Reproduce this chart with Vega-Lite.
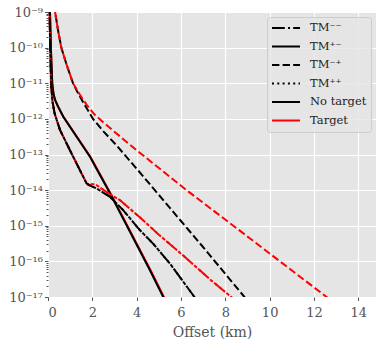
{
  "$schema": "https://vega.github.io/schema/vega-lite/v6.json",
  "autosize": {"type": "none"},
  "padding": {"left": 48, "top": 12, "right": 0, "bottom": 43},
  "width": 328,
  "height": 285,
  "config": {
    "view": {"fill": "#E5E5E5", "stroke": null},
    "axis": {
      "domain": false,
      "grid": true,
      "gridColor": "#FFFFFF",
      "gridWidth": 1.2,
      "tickColor": "#555555",
      "labelColor": "#555555",
      "labelFont": "DejaVu Serif",
      "labelFontSize": 13,
      "titleFont": "DejaVu Serif",
      "titleFontSize": 14,
      "titleFontWeight": "normal",
      "titleColor": "#555555"
    },
    "legend": {
      "labelFont": "DejaVu Serif",
      "labelFontSize": 11.5,
      "labelColor": "#222222",
      "symbolStrokeWidth": 2,
      "symbolType": "stroke",
      "symbolSize": 784,
      "clipHeight": 14,
      "labelOffset": 9,
      "rowPadding": 4.5,
      "padding": 4,
      "fillColor": "rgba(229,229,229,0.8)",
      "strokeColor": "#CCCCCC",
      "cornerRadius": 3,
      "offset": 5
    }
  },
  "layer": [
    {
      "data": {
        "values": [
          {"mode": "TM⁻⁺", "target": "No target", "offset": 0.22, "value": 3.16e-9},
          {"mode": "TM⁻⁺", "target": "No target", "offset": 0.32, "value": 1e-9},
          {"mode": "TM⁻⁺", "target": "No target", "offset": 0.45, "value": 3.16e-10},
          {"mode": "TM⁻⁺", "target": "No target", "offset": 0.6, "value": 1e-10},
          {"mode": "TM⁻⁺", "target": "No target", "offset": 0.85, "value": 3.16e-11},
          {"mode": "TM⁻⁺", "target": "No target", "offset": 1.13, "value": 1e-11},
          {"mode": "TM⁻⁺", "target": "No target", "offset": 1.29, "value": 6.31e-12},
          {"mode": "TM⁻⁺", "target": "No target", "offset": 1.6, "value": 2.82e-12},
          {"mode": "TM⁻⁺", "target": "No target", "offset": 2.03, "value": 1e-12},
          {"mode": "TM⁻⁺", "target": "No target", "offset": 2.5, "value": 4.47e-13},
          {"mode": "TM⁻⁺", "target": "No target", "offset": 3.1, "value": 1.78e-13},
          {"mode": "TM⁻⁺", "target": "No target", "offset": 4.07, "value": 3.55e-14},
          {"mode": "TM⁻⁺", "target": "No target", "offset": 5.5, "value": 3.16e-15},
          {"mode": "TM⁻⁺", "target": "No target", "offset": 7.0, "value": 2.51e-16},
          {"mode": "TM⁻⁺", "target": "No target", "offset": 8.8, "value": 1.12e-17},
          {"mode": "TM⁻⁺", "target": "No target", "offset": 9.0, "value": 7.94e-18},

          {"mode": "TM⁻⁺", "target": "Target", "offset": 0.2, "value": 3.98e-9},
          {"mode": "TM⁻⁺", "target": "Target", "offset": 0.32, "value": 1e-9},
          {"mode": "TM⁻⁺", "target": "Target", "offset": 0.45, "value": 3.16e-10},
          {"mode": "TM⁻⁺", "target": "Target", "offset": 0.6, "value": 1e-10},
          {"mode": "TM⁻⁺", "target": "Target", "offset": 0.85, "value": 3.16e-11},
          {"mode": "TM⁻⁺", "target": "Target", "offset": 1.13, "value": 1e-11},
          {"mode": "TM⁻⁺", "target": "Target", "offset": 1.45, "value": 4.68e-12},
          {"mode": "TM⁻⁺", "target": "Target", "offset": 1.74, "value": 2.51e-12},
          {"mode": "TM⁻⁺", "target": "Target", "offset": 2.1, "value": 1.32e-12},
          {"mode": "TM⁻⁺", "target": "Target", "offset": 2.5, "value": 7.94e-13},
          {"mode": "TM⁻⁺", "target": "Target", "offset": 3.09, "value": 3.89e-13},
          {"mode": "TM⁻⁺", "target": "Target", "offset": 4.0, "value": 1.32e-13},
          {"mode": "TM⁻⁺", "target": "Target", "offset": 6.25, "value": 1e-14},
          {"mode": "TM⁻⁺", "target": "Target", "offset": 9.1, "value": 4.47e-16},
          {"mode": "TM⁻⁺", "target": "Target", "offset": 12.57, "value": 1e-17},
          {"mode": "TM⁻⁺", "target": "Target", "offset": 12.9, "value": 7.08e-18},

          {"mode": "TM⁺⁻", "target": "Target", "offset": 0.05, "value": 3.98e-9},
          {"mode": "TM⁺⁻", "target": "Target", "offset": 0.09, "value": 1e-9},
          {"mode": "TM⁺⁻", "target": "Target", "offset": 0.11, "value": 3.16e-10},
          {"mode": "TM⁺⁻", "target": "Target", "offset": 0.13, "value": 1e-10},
          {"mode": "TM⁺⁻", "target": "Target", "offset": 0.16, "value": 3.16e-11},
          {"mode": "TM⁺⁻", "target": "Target", "offset": 0.19, "value": 1e-11},
          {"mode": "TM⁺⁻", "target": "Target", "offset": 0.25, "value": 5.01e-12},
          {"mode": "TM⁺⁻", "target": "Target", "offset": 0.32, "value": 3.39e-12},
          {"mode": "TM⁺⁻", "target": "Target", "offset": 0.45, "value": 2.24e-12},
          {"mode": "TM⁺⁻", "target": "Target", "offset": 0.69, "value": 1.15e-12},
          {"mode": "TM⁺⁻", "target": "Target", "offset": 1.3, "value": 3.16e-13},
          {"mode": "TM⁺⁻", "target": "Target", "offset": 1.91, "value": 8.71e-14},
          {"mode": "TM⁺⁻", "target": "Target", "offset": 2.81, "value": 8.32e-15},
          {"mode": "TM⁺⁻", "target": "Target", "offset": 4.63, "value": 5.62e-17},
          {"mode": "TM⁺⁻", "target": "Target", "offset": 5.23, "value": 1e-17},
          {"mode": "TM⁺⁻", "target": "Target", "offset": 5.38, "value": 6.61e-18},

          {"mode": "TM⁺⁻", "target": "No target", "offset": 0.06, "value": 3.16e-9},
          {"mode": "TM⁺⁻", "target": "No target", "offset": 0.09, "value": 1e-9},
          {"mode": "TM⁺⁻", "target": "No target", "offset": 0.11, "value": 3.16e-10},
          {"mode": "TM⁺⁻", "target": "No target", "offset": 0.13, "value": 1e-10},
          {"mode": "TM⁺⁻", "target": "No target", "offset": 0.16, "value": 3.16e-11},
          {"mode": "TM⁺⁻", "target": "No target", "offset": 0.19, "value": 1e-11},
          {"mode": "TM⁺⁻", "target": "No target", "offset": 0.25, "value": 5.01e-12},
          {"mode": "TM⁺⁻", "target": "No target", "offset": 0.32, "value": 3.39e-12},
          {"mode": "TM⁺⁻", "target": "No target", "offset": 0.45, "value": 2.24e-12},
          {"mode": "TM⁺⁻", "target": "No target", "offset": 0.69, "value": 1.15e-12},
          {"mode": "TM⁺⁻", "target": "No target", "offset": 1.29, "value": 3.16e-13},
          {"mode": "TM⁺⁻", "target": "No target", "offset": 1.89, "value": 8.71e-14},
          {"mode": "TM⁺⁻", "target": "No target", "offset": 2.79, "value": 8.32e-15},
          {"mode": "TM⁺⁻", "target": "No target", "offset": 4.6, "value": 5.62e-17},
          {"mode": "TM⁺⁻", "target": "No target", "offset": 5.2, "value": 1e-17},
          {"mode": "TM⁺⁻", "target": "No target", "offset": 5.35, "value": 6.61e-18},

          {"mode": "TM⁻⁻", "target": "Target", "offset": 0.04, "value": 3.16e-9},
          {"mode": "TM⁻⁻", "target": "Target", "offset": 0.07, "value": 1e-9},
          {"mode": "TM⁻⁻", "target": "Target", "offset": 0.085, "value": 3.16e-10},
          {"mode": "TM⁻⁻", "target": "Target", "offset": 0.1, "value": 1e-10},
          {"mode": "TM⁻⁻", "target": "Target", "offset": 0.12, "value": 3.16e-11},
          {"mode": "TM⁻⁻", "target": "Target", "offset": 0.14, "value": 1e-11},
          {"mode": "TM⁻⁻", "target": "Target", "offset": 0.2, "value": 3.16e-12},
          {"mode": "TM⁻⁻", "target": "Target", "offset": 0.3, "value": 1.41e-12},
          {"mode": "TM⁻⁻", "target": "Target", "offset": 0.54, "value": 4.9e-13},
          {"mode": "TM⁻⁻", "target": "Target", "offset": 0.99, "value": 1.32e-13},
          {"mode": "TM⁻⁻", "target": "Target", "offset": 1.44, "value": 3.63e-14},
          {"mode": "TM⁻⁻", "target": "Target", "offset": 1.74, "value": 1.55e-14},
          {"mode": "TM⁻⁻", "target": "Target", "offset": 1.87, "value": 1.38e-14},
          {"mode": "TM⁻⁻", "target": "Target", "offset": 2.0, "value": 1.48e-14},
          {"mode": "TM⁻⁻", "target": "Target", "offset": 2.19, "value": 1.38e-14},
          {"mode": "TM⁻⁻", "target": "Target", "offset": 2.8, "value": 7.59e-15},
          {"mode": "TM⁻⁻", "target": "Target", "offset": 3.24, "value": 5.25e-15},
          {"mode": "TM⁻⁻", "target": "Target", "offset": 4.14, "value": 1.74e-15},
          {"mode": "TM⁻⁻", "target": "Target", "offset": 5.0, "value": 5.62e-16},
          {"mode": "TM⁻⁻", "target": "Target", "offset": 6.09, "value": 1.48e-16},
          {"mode": "TM⁻⁻", "target": "Target", "offset": 7.3, "value": 3.16e-17},
          {"mode": "TM⁻⁻", "target": "Target", "offset": 8.27, "value": 1e-17},
          {"mode": "TM⁻⁻", "target": "Target", "offset": 8.45, "value": 7.94e-18},

          {"mode": "TM⁺⁺", "target": "Target", "offset": 0.035, "value": 3.98e-9},
          {"mode": "TM⁺⁺", "target": "Target", "offset": 0.07, "value": 1e-9},
          {"mode": "TM⁺⁺", "target": "Target", "offset": 0.085, "value": 3.16e-10},
          {"mode": "TM⁺⁺", "target": "Target", "offset": 0.1, "value": 1e-10},
          {"mode": "TM⁺⁺", "target": "Target", "offset": 0.12, "value": 3.16e-11},
          {"mode": "TM⁺⁺", "target": "Target", "offset": 0.14, "value": 1e-11},
          {"mode": "TM⁺⁺", "target": "Target", "offset": 0.2, "value": 3.16e-12},
          {"mode": "TM⁺⁺", "target": "Target", "offset": 0.3, "value": 1.41e-12},
          {"mode": "TM⁺⁺", "target": "Target", "offset": 0.54, "value": 4.9e-13},
          {"mode": "TM⁺⁺", "target": "Target", "offset": 0.99, "value": 1.32e-13},
          {"mode": "TM⁺⁺", "target": "Target", "offset": 1.44, "value": 3.63e-14},
          {"mode": "TM⁺⁺", "target": "Target", "offset": 1.74, "value": 1.55e-14},
          {"mode": "TM⁺⁺", "target": "Target", "offset": 1.87, "value": 1.38e-14},
          {"mode": "TM⁺⁺", "target": "Target", "offset": 2.0, "value": 1.48e-14},
          {"mode": "TM⁺⁺", "target": "Target", "offset": 2.19, "value": 1.38e-14},
          {"mode": "TM⁺⁺", "target": "Target", "offset": 2.8, "value": 7.59e-15},
          {"mode": "TM⁺⁺", "target": "Target", "offset": 3.24, "value": 5.25e-15},
          {"mode": "TM⁺⁺", "target": "Target", "offset": 4.14, "value": 1.74e-15},
          {"mode": "TM⁺⁺", "target": "Target", "offset": 5.0, "value": 5.62e-16},
          {"mode": "TM⁺⁺", "target": "Target", "offset": 6.09, "value": 1.48e-16},
          {"mode": "TM⁺⁺", "target": "Target", "offset": 7.3, "value": 3.16e-17},
          {"mode": "TM⁺⁺", "target": "Target", "offset": 8.27, "value": 1e-17},
          {"mode": "TM⁺⁺", "target": "Target", "offset": 8.45, "value": 7.94e-18},

          {"mode": "TM⁻⁻", "target": "No target", "offset": 0.045, "value": 2.51e-9},
          {"mode": "TM⁻⁻", "target": "No target", "offset": 0.07, "value": 1e-9},
          {"mode": "TM⁻⁻", "target": "No target", "offset": 0.085, "value": 3.16e-10},
          {"mode": "TM⁻⁻", "target": "No target", "offset": 0.1, "value": 1e-10},
          {"mode": "TM⁻⁻", "target": "No target", "offset": 0.12, "value": 3.16e-11},
          {"mode": "TM⁻⁻", "target": "No target", "offset": 0.14, "value": 1e-11},
          {"mode": "TM⁻⁻", "target": "No target", "offset": 0.2, "value": 3.16e-12},
          {"mode": "TM⁻⁻", "target": "No target", "offset": 0.3, "value": 1.41e-12},
          {"mode": "TM⁻⁻", "target": "No target", "offset": 0.54, "value": 4.9e-13},
          {"mode": "TM⁻⁻", "target": "No target", "offset": 0.99, "value": 1.32e-13},
          {"mode": "TM⁻⁻", "target": "No target", "offset": 1.44, "value": 3.63e-14},
          {"mode": "TM⁻⁻", "target": "No target", "offset": 1.74, "value": 1.55e-14},
          {"mode": "TM⁻⁻", "target": "No target", "offset": 1.87, "value": 1.35e-14},
          {"mode": "TM⁻⁻", "target": "No target", "offset": 2.19, "value": 1.12e-14},
          {"mode": "TM⁻⁻", "target": "No target", "offset": 2.8, "value": 6.46e-15},
          {"mode": "TM⁻⁻", "target": "No target", "offset": 3.39, "value": 2.75e-15},
          {"mode": "TM⁻⁻", "target": "No target", "offset": 4.14, "value": 7.59e-16},
          {"mode": "TM⁻⁻", "target": "No target", "offset": 4.74, "value": 3.16e-16},
          {"mode": "TM⁻⁻", "target": "No target", "offset": 5.5, "value": 8.71e-17},
          {"mode": "TM⁻⁻", "target": "No target", "offset": 6.55, "value": 1.12e-17},
          {"mode": "TM⁻⁻", "target": "No target", "offset": 6.7, "value": 8.51e-18},

          {"mode": "TM⁺⁺", "target": "No target", "offset": 0.05, "value": 2e-9},
          {"mode": "TM⁺⁺", "target": "No target", "offset": 0.07, "value": 1e-9},
          {"mode": "TM⁺⁺", "target": "No target", "offset": 0.085, "value": 3.16e-10},
          {"mode": "TM⁺⁺", "target": "No target", "offset": 0.1, "value": 1e-10},
          {"mode": "TM⁺⁺", "target": "No target", "offset": 0.12, "value": 3.16e-11},
          {"mode": "TM⁺⁺", "target": "No target", "offset": 0.14, "value": 1e-11},
          {"mode": "TM⁺⁺", "target": "No target", "offset": 0.2, "value": 3.16e-12},
          {"mode": "TM⁺⁺", "target": "No target", "offset": 0.3, "value": 1.41e-12},
          {"mode": "TM⁺⁺", "target": "No target", "offset": 0.54, "value": 4.9e-13},
          {"mode": "TM⁺⁺", "target": "No target", "offset": 0.99, "value": 1.32e-13},
          {"mode": "TM⁺⁺", "target": "No target", "offset": 1.44, "value": 3.63e-14},
          {"mode": "TM⁺⁺", "target": "No target", "offset": 1.74, "value": 1.55e-14},
          {"mode": "TM⁺⁺", "target": "No target", "offset": 1.87, "value": 1.35e-14},
          {"mode": "TM⁺⁺", "target": "No target", "offset": 2.19, "value": 1.12e-14},
          {"mode": "TM⁺⁺", "target": "No target", "offset": 2.8, "value": 6.46e-15},
          {"mode": "TM⁺⁺", "target": "No target", "offset": 3.39, "value": 2.75e-15},
          {"mode": "TM⁺⁺", "target": "No target", "offset": 4.14, "value": 7.59e-16},
          {"mode": "TM⁺⁺", "target": "No target", "offset": 4.74, "value": 3.16e-16},
          {"mode": "TM⁺⁺", "target": "No target", "offset": 5.5, "value": 8.71e-17},
          {"mode": "TM⁺⁺", "target": "No target", "offset": 6.55, "value": 1.12e-17},
          {"mode": "TM⁺⁺", "target": "No target", "offset": 6.7, "value": 8.51e-18}
        ]
      },
      "mark": {"type": "line", "clip": true, "strokeWidth": 2},
      "encoding": {
        "x": {
          "field": "offset",
          "type": "quantitative",
          "scale": {"domain": [0, 14.8], "nice": false, "zero": false},
          "axis": {
            "title": "Offset (km)",
            "values": [0, 2, 4, 6, 8, 10, 12, 14],
            "tickSize": 3.5,
            "labelPadding": 6,
            "titlePadding": 6
          }
        },
        "y": {
          "field": "value",
          "type": "quantitative",
          "scale": {"type": "log", "domain": [1e-17, 1e-9], "nice": false},
          "axis": {
            "title": null,
            "labelOverlap": false,
            "labelPadding": 2,
            "values": [
              1e-17, 2e-17, 3e-17, 4e-17, 5e-17, 6e-17, 7e-17, 8e-17, 9e-17,
              1e-16, 2e-16, 3e-16, 4e-16, 5e-16, 6e-16, 7e-16, 8e-16, 9e-16,
              1e-15, 2e-15, 3e-15, 4e-15, 5e-15, 6e-15, 7e-15, 8e-15, 9e-15,
              1e-14, 2e-14, 3e-14, 4e-14, 5e-14, 6e-14, 7e-14, 8e-14, 9e-14,
              1e-13, 2e-13, 3e-13, 4e-13, 5e-13, 6e-13, 7e-13, 8e-13, 9e-13,
              1e-12, 2e-12, 3e-12, 4e-12, 5e-12, 6e-12, 7e-12, 8e-12, 9e-12,
              1e-11, 2e-11, 3e-11, 4e-11, 5e-11, 6e-11, 7e-11, 8e-11, 9e-11,
              1e-10, 2e-10, 3e-10, 4e-10, 5e-10, 6e-10, 7e-10, 8e-10, 9e-10,
              1e-9
            ],
            "labelExpr": "abs(log(datum.value)/LN10 - round(log(datum.value)/LN10)) > 0.001 ? '' : '10⁻' + (round(-log(datum.value)/LN10) >= 10 ? '¹' + ['⁰','¹','²','³','⁴','⁵','⁶','⁷','⁸','⁹'][round(-log(datum.value)/LN10) - 10] : ['⁰','¹','²','³','⁴','⁵','⁶','⁷','⁸','⁹'][round(-log(datum.value)/LN10)])",
            "tickSize": {"condition": {"test": "abs(log(datum.value)/LN10 - round(log(datum.value)/LN10)) < 0.001", "value": 3.5}, "value": 2},
            "gridOpacity": {"condition": {"test": "abs(log(datum.value)/LN10 - round(log(datum.value)/LN10)) < 0.001", "value": 1}, "value": 0}
          }
        },
        "color": {
          "field": "target",
          "type": "nominal",
          "scale": {"domain": ["No target", "Target"], "range": ["#000000", "#FF0000"]},
          "legend": null
        },
        "strokeDash": {
          "field": "mode",
          "type": "nominal",
          "scale": {
            "domain": ["TM⁻⁻", "TM⁺⁻", "TM⁻⁺", "TM⁺⁺"],
            "range": [[12.8, 3.2, 2, 3.2], [1, 0], [7.4, 3.2], [2, 3.3]]
          },
          "legend": null
        }
      }
    },
    {
      "data": {
        "values": [
          {"key": "TM⁻⁻"},
          {"key": "TM⁺⁻"},
          {"key": "TM⁻⁺"},
          {"key": "TM⁺⁺"},
          {"key": "No target"},
          {"key": "Target"}
        ]
      },
      "mark": {"type": "line", "strokeWidth": 2},
      "encoding": {
        "x": {"field": "offset", "type": "quantitative"},
        "y": {"field": "value", "type": "quantitative"},
        "color": {
          "field": "key",
          "type": "nominal",
          "scale": {
            "domain": ["TM⁻⁻", "TM⁺⁻", "TM⁻⁺", "TM⁺⁺", "No target", "Target"],
            "range": ["#000000", "#000000", "#000000", "#000000", "#000000", "#FF0000"]
          },
          "legend": {"title": null, "orient": "top-right"}
        },
        "strokeDash": {
          "field": "key",
          "type": "nominal",
          "scale": {
            "domain": ["TM⁻⁻", "TM⁺⁻", "TM⁻⁺", "TM⁺⁺", "No target", "Target"],
            "range": [[12.8, 3.2, 2, 3.2], [1, 0], [7.4, 3.2], [2, 3.3], [1, 0], [1, 0]]
          },
          "legend": {"title": null, "orient": "top-right"}
        }
      }
    }
  ],
  "resolve": {"scale": {"color": "independent", "strokeDash": "independent"}}
}
